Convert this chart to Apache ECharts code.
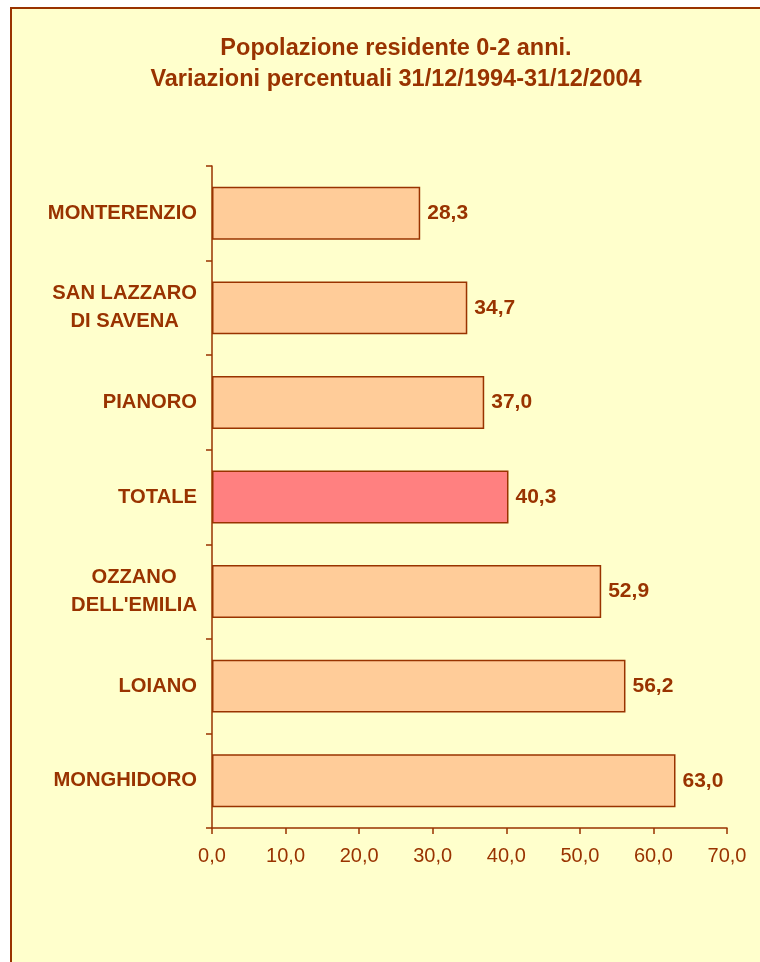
<!DOCTYPE html>
<html>
<head>
<meta charset="utf-8">
<script src="https://cdn.jsdelivr.net/npm/echarts@6/dist/echarts.min.js"></script>
<style>
  html, body { margin: 0; padding: 0; background: #ffffff; }
  #chart { width: 760px; height: 962px; }
</style>
</head>
<body>
<div id="chart"></div>
<script>
const categories = ['MONTERENZIO', 'SAN LAZZARO\nDI SAVENA', 'PIANORO', 'TOTALE', 'OZZANO\nDELL\'EMILIA', 'LOIANO', 'MONGHIDORO'];
const values = [28.3, 34.7, 37.0, 40.3, 52.9, 56.2, 63.0];
const highlightCategory = 'TOTALE';
const titleLines = ['Popolazione residente 0-2 anni.', 'Variazioni percentuali 31/12/1994-31/12/2004'];

const brown = '#993300';
const font = '"Liberation Sans", Arial, sans-serif';
const fmt = v => Number(v).toFixed(1).replace('.', ',');

const chart = echarts.init(document.getElementById('chart'));
chart.setOption({
  backgroundColor: '#ffffff',
  animation: false,
  graphic: [{
    type: 'rect',
    z: -10,
    shape: { x: 11, y: 8, width: 800, height: 1000 },
    style: { fill: '#FFFFCC', stroke: brown, lineWidth: 2 }
  }],
  title: {
    text: titleLines.join('\n'),
    left: 391,
    top: 28,
    textAlign: 'center',
    textStyle: {
      color: brown, fontFamily: font, fontWeight: 'bold', fontSize: 23.5, lineHeight: 31
    }
  },
  grid: { left: 212, right: 33, top: 166, bottom: 134, containLabel: false },
  xAxis: {
    type: 'value',
    min: 0, max: 70, interval: 10,
    splitLine: { show: false },
    axisLine: { show: true, lineStyle: { color: brown, width: 1.5 } },
    axisTick: { show: true, length: 6, lineStyle: { color: brown, width: 1.5 } },
    axisLabel: {
      color: brown, fontFamily: font, fontSize: 20, margin: 18,
      formatter: v => fmt(v)
    }
  },
  yAxis: {
    type: 'category',
    inverse: true,
    data: categories,
    axisLine: { show: true, lineStyle: { color: brown, width: 1.5 } },
    axisTick: { show: true, length: 6, lineStyle: { color: brown, width: 1.5 } },
    axisLabel: {
      margin: 15,
      formatter: v => v.split('\n').map(s => '{c|' + s + '}').join('\n'),
      rich: {
        c: { align: 'center', color: brown, fontFamily: font, fontWeight: 'bold', fontSize: 20.2, lineHeight: 28 }
      }
    }
  },
  series: [{
    type: 'bar',
    barWidth: '56%',
    data: values.map((v, i) => ({
      value: v,
      itemStyle: { color: categories[i] === highlightCategory ? '#FF8080' : '#FFCC99' }
    })),
    itemStyle: { borderColor: brown, borderWidth: 1.5 },
    label: {
      show: true, position: 'right', distance: 7,
      color: brown, fontFamily: font, fontWeight: 'bold', fontSize: 21,
      formatter: p => fmt(p.value)
    }
  }]
});
</script>
</body>
</html>
